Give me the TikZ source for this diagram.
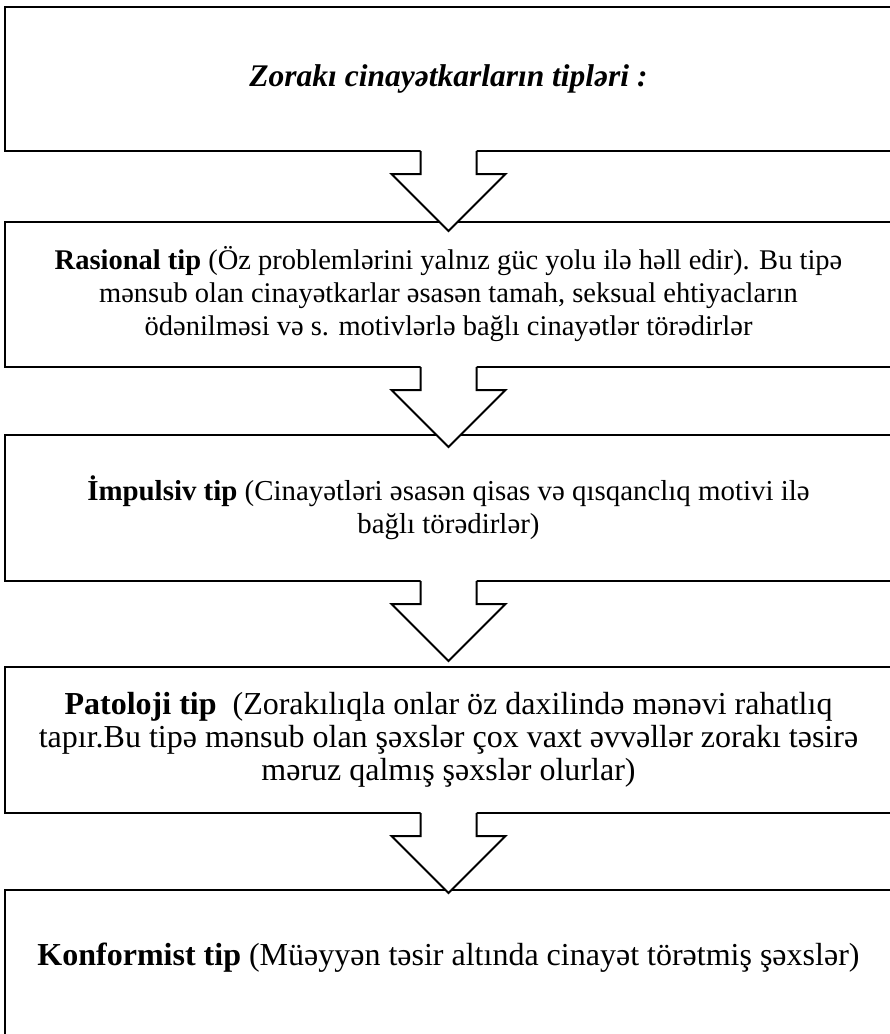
\documentclass[tikz,border=0pt]{standalone}
\usepackage{fontspec}
\setmainfont{Liberation Serif}
\usetikzlibrary{calc}

\begin{document}
\begin{tikzpicture}[x=1pt,y=-1pt,
  typebox/.style={draw,line width=2pt,minimum width=887pt,align=center,
    font=\fontsize{28.5}{33}\selectfont,inner sep=0pt,outer sep=0pt},
  typetext/.style={align=center,font=\fontsize{32}{33}\selectfont,inner sep=0pt},
  arrowfill/.style={fill=white},
  arrowline/.style={draw,line width=2pt,line join=miter}
]
  \useasboundingbox (0,0) rectangle (890,1034);
  \clip (0,0) rectangle (890,1034);
  % title
  \node[typebox,minimum height=144pt,font=\fontsize{31.5}{36}\selectfont\bfseries\itshape]
    (title) at (448.5,79) {Zorakı cinayətkarların tipləri :};
  % Rasional
  \node[typebox,minimum height=145pt] (rasional) at (448.5,294.5) {
    \textbf{Rasional tip} (Öz problemlərini yalnız güc yolu ilə həll edir). Bu tipə\\
    mənsub olan cinayətkarlar əsasən tamah, seksual ehtiyacların\\
    ödənilməsi və s. motivlərlə bağlı cinayətlər törədirlər};
  % Impulsiv
  \node[typebox,minimum height=146pt,font=\fontsize{28.9}{33}\selectfont] (impulsiv) at (448.5,508) {
    \textbf{İmpulsiv tip} (Cinayətləri əsasən qisas və qısqanclıq motivi ilə\\
    bağlı törədirlər)};
  % Patoloji
  \node[typebox,minimum height=146pt,font=\fontsize{32}{33}\selectfont] (patoloji) at (448.5,740) {
    \textbf{Patoloji tip}\ \ (Zorakılıqla onlar öz daxilində mənəvi rahatlıq\\
    tapır.Bu tipə mənsub olan şəxslər çox vaxt əvvəllər zorakı təsirə\\
    məruz qalmış şəxslər olurlar)};
  % Konformist
  \node[typebox,minimum height=150pt] (konf) at (448.5,965) {};
  \node[typetext] (konftext) at (448.5,958) {
    \textbf{Konformist tip} (Müəyyən təsir altında cinayət törətmiş şəxslər)};
  % block arrows
  \foreach \up in {title,rasional,impulsiv,patoloji}{
    \path[arrowfill] ($(\up.south)+(-28,-2)$) -- ++(0,25) -- ++(-29,0)
      -- ($(\up.south)+(0,80)$) -- ($(\up.south)+(57,23)$) -- ++(-29,0)
      -- ++(0,-25) -- cycle;
    \draw[arrowline] ($(\up.south)+(-28,0)$) -- ++(0,23) -- ++(-29,0)
      -- ($(\up.south)+(0,80)$) -- ($(\up.south)+(57,23)$) -- ++(-29,0)
      -- ++(0,-23);
  }
\end{tikzpicture}
\end{document}
